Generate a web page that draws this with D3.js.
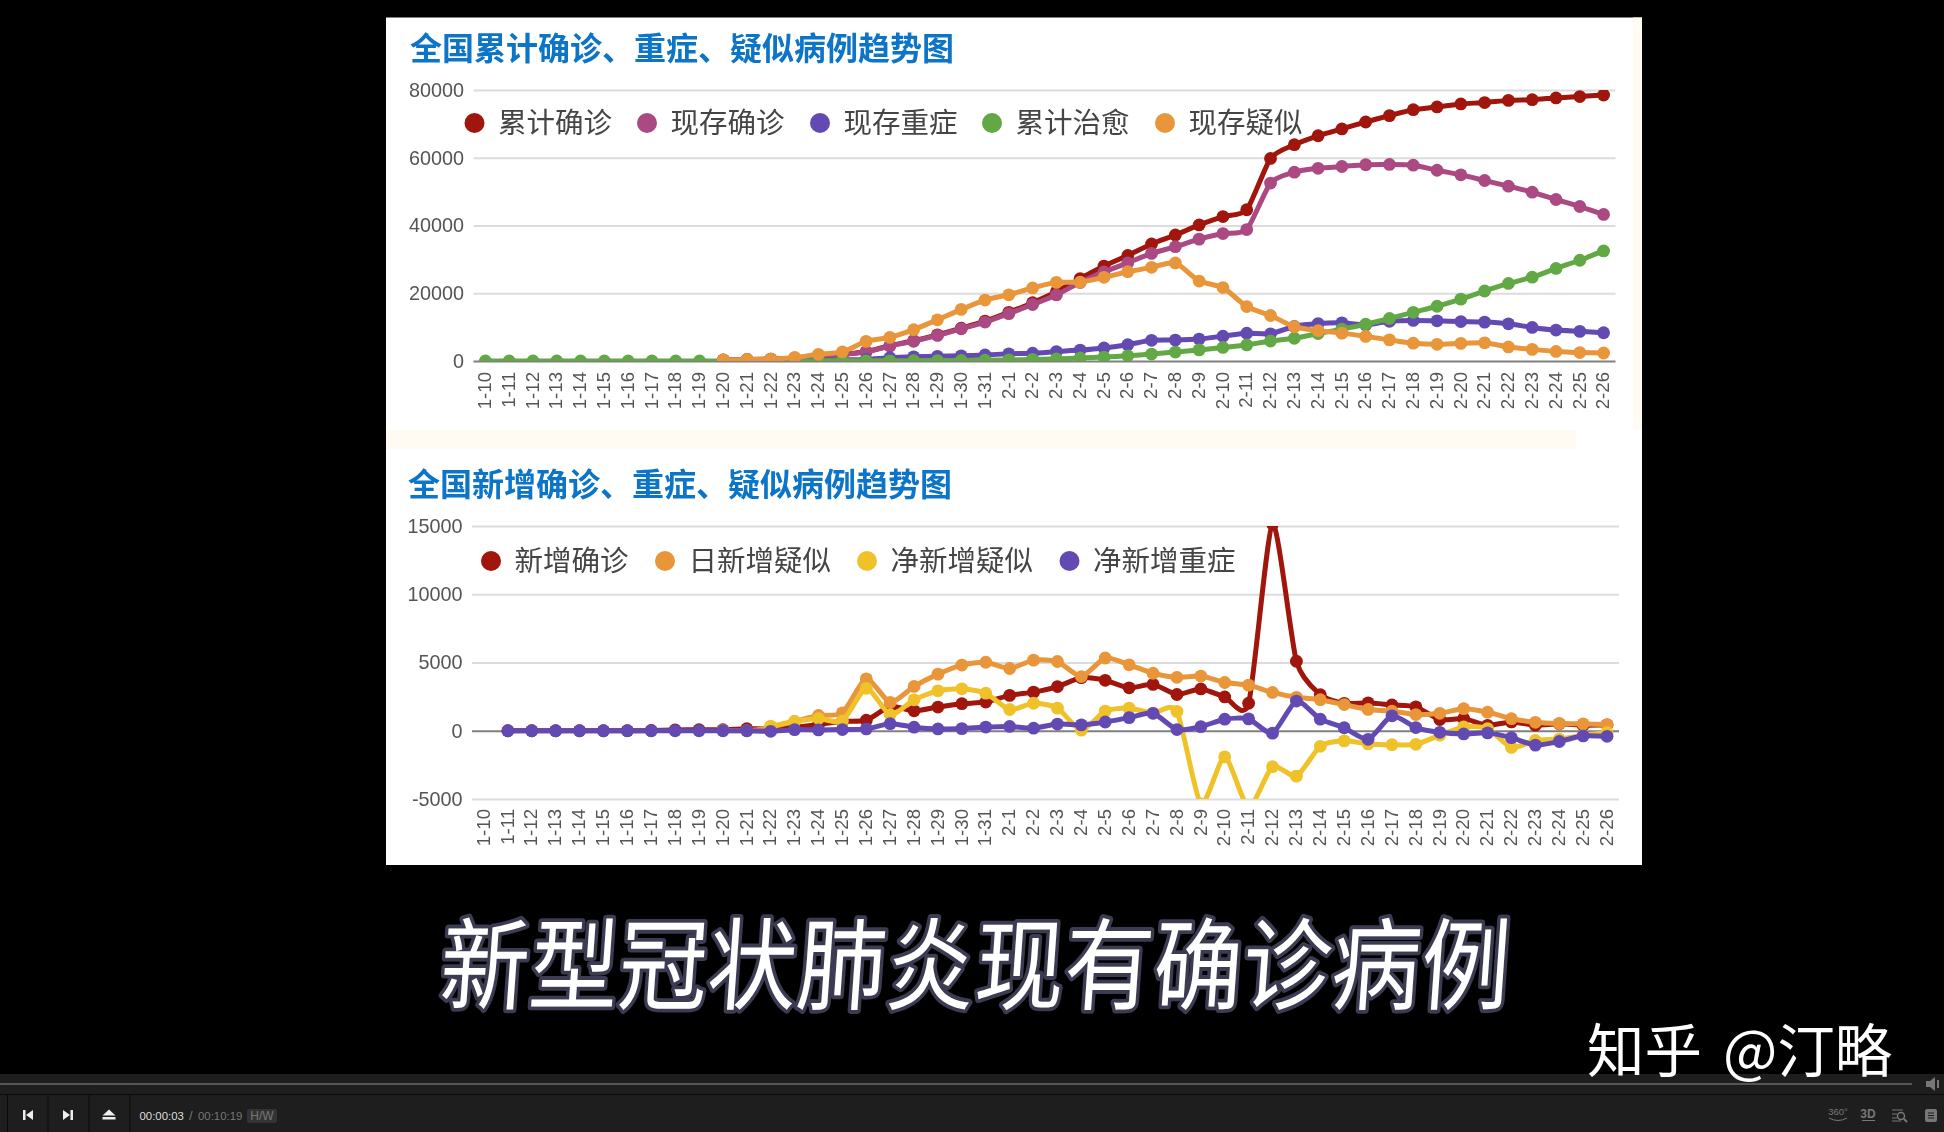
<!DOCTYPE html>
<html><head><meta charset="utf-8">
<script src="https://cdn.jsdelivr.net/npm/d3@7/dist/d3.min.js"></script>
<style>html,body{margin:0;padding:0;background:#000;overflow:hidden}svg{display:block}</style>
</head><body><svg id="c" width="1944" height="1132"></svg>
<script>
const dates = ["1-10","1-11","1-12","1-13","1-14","1-15","1-16","1-17","1-18","1-19","1-20","1-21","1-22","1-23","1-24","1-25","1-26","1-27","1-28","1-29","1-30","1-31","2-1","2-2","2-3","2-4","2-5","2-6","2-7","2-8","2-9","2-10","2-11","2-12","2-13","2-14","2-15","2-16","2-17","2-18","2-19","2-20","2-21","2-22","2-23","2-24","2-25","2-26"];
const _ = null;
const cumConfirmed = [_,_,_,_,_,_,_,_,_,_,291,440,571,830,1287,1975,2744,4515,5974,7711,9692,11791,14380,17205,20438,24324,28018,31161,34546,37198,40171,42638,44653,59804,63851,66492,68500,70548,72436,74185,75002,75891,76288,76936,77150,77658,78064,78497];
const curConfirmed = [_,_,_,_,_,_,_,_,_,_,266,412,543,799,1249,1931,2684,4409,5830,7553,9509,11500,13970,16678,19492,23214,26302,28985,31774,33738,35982,37626,38800,52526,55748,56873,57416,57934,58016,57805,56303,54965,53284,51606,49824,47672,45604,43258];
const curSevere = [_,_,_,_,_,_,_,_,_,_,_,_,_,177,237,324,461,976,1239,1370,1527,1795,2110,2296,2788,3219,3859,4821,6101,6188,6484,7333,8204,8030,10204,11053,11272,10644,11741,11977,11864,11633,11477,10968,9915,9126,8752,8346];
const cumCured = [0,0,0,0,0,0,0,0,0,0,25,28,28,34,38,49,51,60,103,124,171,243,328,475,632,892,1153,1540,2050,2649,3281,3996,4740,5911,6723,8096,9419,10844,12552,14376,16155,18264,20659,22888,24734,27323,29745,32495];
const curSuspect = [_,_,_,_,_,_,_,_,_,_,300,440,570,1072,1965,2684,5794,6973,9239,12167,15238,17988,19544,21558,23214,23260,24702,26359,27657,28942,23589,21675,16067,13435,10109,8969,8228,7264,6242,5248,4922,5206,5365,4148,3434,2824,2491,2358];

const newConfirmed = [_,0,0,0,0,0,4,17,59,77,77,149,131,259,457,688,769,1771,1459,1737,1982,2102,2590,2829,3235,3887,3694,3143,3399,2656,3062,2478,2015,15152,5090,2641,2009,2048,1886,1749,820,889,397,648,409,508,406,433];
const newSuspect = [_,_,_,_,_,_,_,_,_,_,27,0,257,680,1118,1309,3806,2077,3248,4148,4812,5019,4562,5173,5072,3971,5328,4833,4214,3916,4008,3536,3342,2807,2450,2277,1918,1563,1432,1185,1277,1614,1361,882,620,530,508,452];
const netSuspect = [_,_,_,_,_,_,_,_,_,_,_,_,339,679,893,719,3110,1179,2266,2928,3071,2750,1556,2014,1656,46,1442,1657,1298,1420,-5353,-1914,-5608,-2632,-3326,-1140,-741,-964,-1022,-994,-326,284,159,-1217,-714,-610,-333,-133];
const netSevere = [_,0,0,0,0,0,0,0,0,0,0,0,-40,82,60,87,137,515,263,131,157,268,315,186,492,431,640,962,1280,87,296,849,871,-174,2174,849,219,-628,1097,236,-113,-231,-156,-509,-1053,-789,-374,-406];

const topTitle = "全国累计确诊、重症、疑似病例趋势图";
const botTitle = "全国新增确诊、重症、疑似病例趋势图";
const topTicks = [0,20000,40000,60000,80000];
const botTicks = [-5000,0,5000,10000,15000];
const subtitle = "新型冠状肺炎现有确诊病例";
const watermark = "知乎 @汀略";

const RED="#a0140a",MAG="#aa4a82",PUR="#6448b2",GRN="#62a944",ORG="#e9963a",YEL="#f0c22a";
const topSeries = [
 {name:"累计确诊",color:RED,values:cumConfirmed,lx:474.5},
 {name:"现存确诊",color:MAG,values:curConfirmed,lx:647},
 {name:"现存重症",color:PUR,values:curSevere,lx:820},
 {name:"累计治愈",color:GRN,values:cumCured,lx:992},
 {name:"现存疑似",color:ORG,values:curSuspect,lx:1165}];
const botSeries = [
 {name:"新增确诊",color:RED,values:newConfirmed,lx:491},
 {name:"日新增疑似",color:ORG,values:newSuspect,lx:665},
 {name:"净新增疑似",color:YEL,values:netSuspect,lx:867},
 {name:"净新增重症",color:PUR,values:netSevere,lx:1069.5}];

const svg = d3.select("#c");
const CJK = "'Noto Sans CJK SC','Noto Sans',sans-serif";
const defs = svg.append("defs");
const soft = defs.append("filter").attr("id","soft").attr("x","-2%").attr("y","-2%").attr("width","104%").attr("height","104%");
soft.append("feGaussianBlur").attr("stdDeviation",0.75);

const page = svg.append("g").attr("filter","url(#soft)");
page.append("rect").attr("x",386).attr("y",17.5).attr("width",1256).attr("height",847.5).attr("fill","#fff");
page.append("rect").attr("x",1633).attr("y",17.5).attr("width",9).attr("height",412).attr("fill","#fffbf2");
page.append("rect").attr("x",386).attr("y",430).attr("width",1190).attr("height",19).attr("fill","#fffbf2");

function chart(o){
  const g = page.append("g");
  g.append("text").attr("x",o.titleX).attr("y",o.titleY).text(o.title)
    .attr("font-family",CJK).attr("font-size",32).attr("font-weight",700).attr("fill","#0a74c8");
  const x = d3.scalePoint().domain(dates).range([o.x0,o.x1]).padding(0.5);
  const y = d3.scaleLinear().domain(o.domain).range(o.yr);
  const yAxis = d3.axisLeft(y).tickValues(o.ticks).tickSize(-(o.x1-o.x0)).tickPadding(o.tickPad).tickFormat(d=>String(d));
  const ya = g.append("g").attr("transform",`translate(${o.x0},0)`).call(yAxis);
  ya.select(".domain").remove();
  ya.selectAll("line").attr("stroke",d=>d===0?"#808080":"#dcdcdc").attr("stroke-width",2);
  ya.selectAll("text").attr("font-family","'Liberation Sans',Arial,sans-serif").attr("font-size",19.8).attr("fill","#555");
  const xAxis = d3.axisBottom(x).tickSize(0);
  const xa = g.append("g").attr("transform",`translate(0,${o.labelY})`).call(xAxis);
  xa.select(".domain").remove();
  xa.selectAll("text").attr("font-family","'Liberation Sans',Arial,sans-serif").attr("font-size",18.6).attr("fill","#555")
    .attr("transform","rotate(-90)").attr("text-anchor","end").attr("x",0).attr("y",0).attr("dy","0.28em");
  const clipId = "clip"+o.id;
  defs.append("clipPath").attr("id",clipId).append("rect").attr("x",o.x0).attr("y",o.yr[1]).attr("width",o.x1-o.x0).attr("height",o.yr[0]-o.yr[1]);
  const marks = g.append("g").attr("clip-path",`url(#${clipId})`);
  const line = d3.line().defined(d=>d.v!==null).x(d=>x(d.k)).y(d=>y(d.v)).curve(d3.curveCardinal.tension(0.35));
  o.series.forEach(s=>{
    const pts = s.values.map((v,i)=>({k:dates[i],v}));
    const sg = marks.append("g");
    sg.append("path").datum(pts).attr("d",line).attr("fill","none").attr("stroke",s.color).attr("stroke-width",5);
    sg.selectAll("circle").data(pts.filter(d=>d.v!==null)).join("circle")
      .attr("cx",d=>x(d.k)).attr("cy",d=>y(d.v)).attr("r",6.4).attr("fill",s.color);
  });
  const lg = g.append("g");
  o.series.forEach(s=>{
    lg.append("circle").attr("cx",s.lx).attr("cy",o.legendY).attr("r",10).attr("fill",s.color);
    lg.append("text").attr("x",s.lx+23.5).attr("y",o.legendY).attr("dy","0.36em").text(s.name)
      .attr("font-family",CJK).attr("font-size",28.5).attr("fill","#444");
  });
}
chart({id:"t",title:topTitle,titleX:410,titleY:60,x0:473.5,x1:1615.5,yr:[361,90],domain:[0,80000],ticks:topTicks,tickPad:9.5,labelY:372,series:topSeries,legendY:123});
chart({id:"b",title:botTitle,titleX:408,titleY:496,x0:472,x1:1619,yr:[799,526],domain:[-5000,15000],ticks:botTicks,tickPad:9.5,labelY:809,series:botSeries,legendY:561});

// caption and watermark
svg.append("text").attr("transform","translate(438,1002) skewX(-4) scale(0.98,1.1)").text(subtitle)
  .attr("font-family",CJK).attr("font-size",91).attr("font-weight",400).attr("fill","#fff")
  .attr("stroke","#3b3b52").attr("stroke-width",7).attr("paint-order","stroke").attr("stroke-linejoin","round");

// player bar
const bar = svg.append("g");
bar.append("rect").attr("x",0).attr("y",1074).attr("width",1944).attr("height",58).attr("fill","#1e1e1e");
bar.append("rect").attr("x",0).attr("y",1083).attr("width",1912).attr("height",2).attr("fill","#555");
bar.append("rect").attr("x",0).attr("y",1094).attr("width",1944).attr("height",1).attr("fill","#0a0a0a");
[7,47.5,88.5,129.5].forEach(v=>bar.append("rect").attr("x",v).attr("y",1095).attr("width",1).attr("height",37).attr("fill","#0a0a0a"));
bar.append("path").attr("fill","#eee").attr("d","M23 1110h2.5v10H23zM26 1115l7-5v10zM73 1110h-2.5v10H73zM70 1115l-7-5v10zM109 1109.500l6.500 6h-13zM102.500 1117h13v2.500h-13z");
bar.append("path").attr("fill","#777").attr("d","M1926 1081h4l5-4v14l-5-4h-4zM1937 1080h2v8h-2z");
const mono="'Liberation Sans',Arial,sans-serif";
const txt=(x,y,t,c,fs,a)=>bar.append("text").attr("x",x).attr("y",y).attr("text-anchor",a||"start").text(t).attr("font-family",mono).attr("font-size",fs).attr("fill",c);
txt(139.5,1119.500,"00:00:03","#ddd",11.4);
txt(189,1120,"/","#777",13);
txt(198,1119.500,"00:10:19","#777",11.4);
bar.append("rect").attr("x",247).attr("y",1109).attr("width",30).attr("height",14).attr("rx",2).attr("fill","#333");
txt(262,1120,"H/W","#777",12,"middle");
txt(1838,1115,"360°","#777",9.500,"middle");
bar.append("path").attr("fill","none").attr("stroke","#777").attr("stroke-width",1).attr("d","M1829 1118q9 5 18 0");
txt(1868,1118,"3D","#777",12,"middle").attr("font-weight",700);
bar.append("rect").attr("x",1862).attr("y",1120).attr("width",13).attr("height",1).attr("fill","#777");
bar.append("path").attr("fill","none").attr("stroke","#777").attr("stroke-width",1.200).attr("d","M1892 1110h11M1892 1114h5M1892 1118h5M1892 1121h9");
bar.append("circle").attr("cx",1901).attr("cy",1116).attr("r",3.500).attr("fill","none").attr("stroke","#777").attr("stroke-width",1.500);
bar.append("path").attr("stroke","#777").attr("stroke-width",2).attr("d","M1904 1119l3 3");
bar.append("rect").attr("x",1925).attr("y",1109).attr("width",12).attr("height",13).attr("rx",2).attr("fill","#777");
bar.append("path").attr("stroke","#1e1e1e").attr("stroke-width",1).attr("d","M1928 1113h6M1928 1115.500h6M1928 1118h6");

svg.append("text").attr("x",1587).attr("y",1072).text(watermark)
  .attr("font-family",CJK).attr("font-size",57.5).attr("word-spacing",8).attr("fill","#fff");
</script></body></html>
